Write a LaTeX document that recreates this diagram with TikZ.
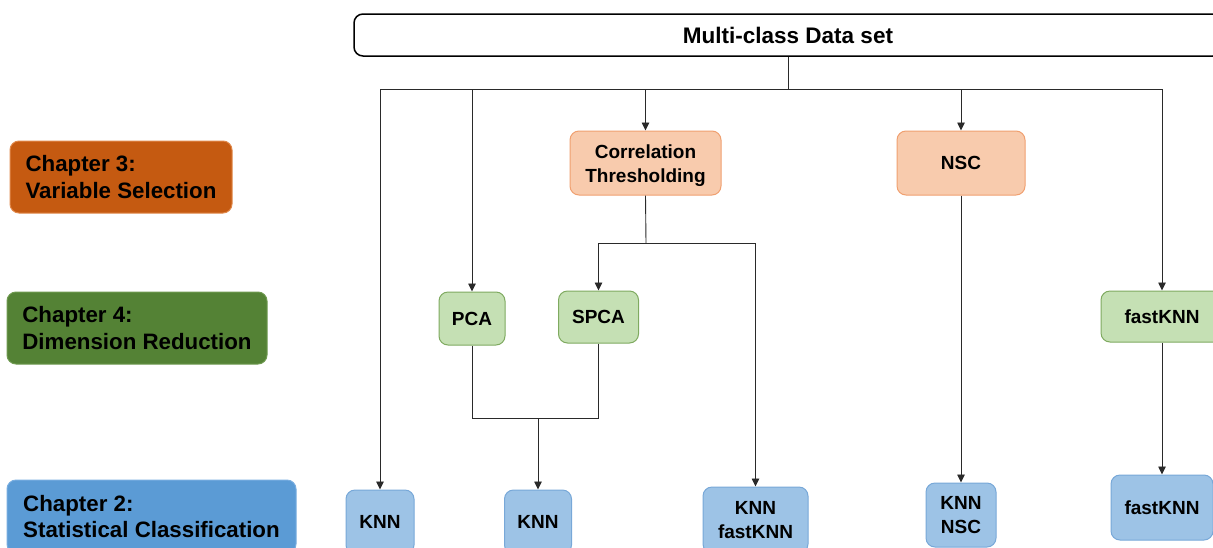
\documentclass[tikz,border=0pt]{standalone}
\usepackage{fontspec}
\setmainfont{Liberation Sans}
\usetikzlibrary{arrows.meta}
\definecolor{chapOrange}{HTML}{C55A11}
\definecolor{chapOrangeB}{HTML}{E0884A}
\definecolor{chapGreen}{HTML}{548235}
\definecolor{chapGreenB}{HTML}{6F9A50}
\definecolor{chapBlue}{HTML}{5B9BD5}
\definecolor{chapBlueB}{HTML}{78ADE0}
\definecolor{selFill}{HTML}{F8CBAD}
\definecolor{selLine}{HTML}{F0A070}
\definecolor{redFill}{HTML}{C5E0B4}
\definecolor{redLine}{HTML}{7FAA60}
\definecolor{clsFill}{HTML}{9DC3E6}
\definecolor{clsLine}{HTML}{78A8D8}
\definecolor{wire}{HTML}{2A2A2A}
\tikzset{
  chapbox/.style={rounded corners=9pt, align=left, inner sep=0pt,
    font=\fontsize{22.3}{26.5}\selectfont\bfseries, line width=1pt},
  stepbox/.style={rounded corners=9pt, align=center, inner sep=0pt,
    font=\fontsize{19}{24}\selectfont\bfseries, line width=1pt},
  selbox/.style={stepbox, fill=selFill, draw=selLine},
  redbox/.style={stepbox, fill=redFill, draw=redLine},
  clsbox/.style={stepbox, fill=clsFill, draw=clsLine},
  wireline/.style={draw=wire, line width=0.9pt},
  arr/.style={wireline, -{Triangle[length=8pt,width=7.5pt]}},
}
\begin{document}
\begin{tikzpicture}[x=1pt,y=-1pt]
\path[use as bounding box, clip] (0,0) rectangle (1213,547);
\fill[white] (0,0) rectangle (1213,547);

% data set header
\node[draw=black, line width=1.5pt, rounded corners=9pt, fill=white,
      minimum width=868pt, minimum height=42pt, inner sep=0pt,
      font=\fontsize{22.5}{26}\selectfont\bfseries] (data) at (788,35) {Multi-class Data set};

% chapter labels
\node[chapbox, fill=chapOrange, draw=chapOrangeB, minimum width=222pt, minimum height=72pt]
  (ch3) at (121,177) {Chapter 3:\\Variable Selection};
\node[chapbox, fill=chapGreen, draw=chapGreenB, minimum width=260pt, minimum height=72pt]
  (ch4) at (137,328) {Chapter 4:\\Dimension Reduction};
\node[chapbox, fill=chapBlue, draw=chapBlueB, minimum width=289pt, minimum height=73pt]
  (ch2) at (151.5,516.5) {Chapter 2:\\Statistical Classification};

% variable selection (a taller first-line strut sets the two lines a little lower)
\node[selbox, minimum width=151pt, minimum height=64pt] (corr) at (645.5,163)
  {\begin{tabular}{@{}c@{}}\rule{0pt}{22.8pt}Correlation\\Thresholding\end{tabular}};
\node[selbox, minimum width=128pt, minimum height=64pt] (nsc) at (961,163) {NSC};

% dimension reduction
\node[redbox, minimum width=66pt, minimum height=53pt] (pca) at (472,318.5) {PCA};
\node[redbox, minimum width=80pt, minimum height=52pt] (spca) at (598.5,317) {SPCA};
\node[redbox, minimum width=122pt, minimum height=51pt] (fknnA) at (1162,316.5) {fastKNN};

% classifiers
\node[clsbox, minimum width=68pt, minimum height=64pt] (knnA) at (380,522) {KNN};
\node[clsbox, minimum width=67pt, minimum height=64pt] (knnB) at (538,522) {KNN};
\node[clsbox, minimum width=105pt, minimum height=66pt] (knnC) at (755.5,520) {KNN\\fastKNN};
\node[clsbox, minimum width=70pt, minimum height=64pt] (knnD) at (961,515) {KNN\\NSC};
\node[clsbox, minimum width=102pt, minimum height=65pt] (fknnB) at (1162,507.5) {fastKNN};

% distribution bus
\coordinate (bus) at (788,89);
\draw[wireline] (data.south) -- (bus);
\draw[arr] (bus) -| (knnA.north);
\draw[arr] (bus) -| (pca.north);
\draw[arr] (bus) -| (corr.north);
\draw[arr] (bus) -| (nsc.north);
\draw[arr] (bus) -| (fknnA.north);

% correlation thresholding split
\coordinate (split) at (646,243);
\draw[wireline] (corr.south) -- (split);
\draw[arr] (split) -| (spca.north);
\draw[arr] (split) -| (knnC.north);

% PCA / SPCA join
\coordinate (join) at (538,418);
\draw[wireline] (pca.south) |- (join);
\draw[wireline] (spca.south) |- (join);
\draw[arr] (join) -- (knnB.north);

\draw[arr] (nsc.south) -- (knnD.north);
\draw[arr] (fknnA.south) -- (fknnB.north);
\end{tikzpicture}
\end{document}
